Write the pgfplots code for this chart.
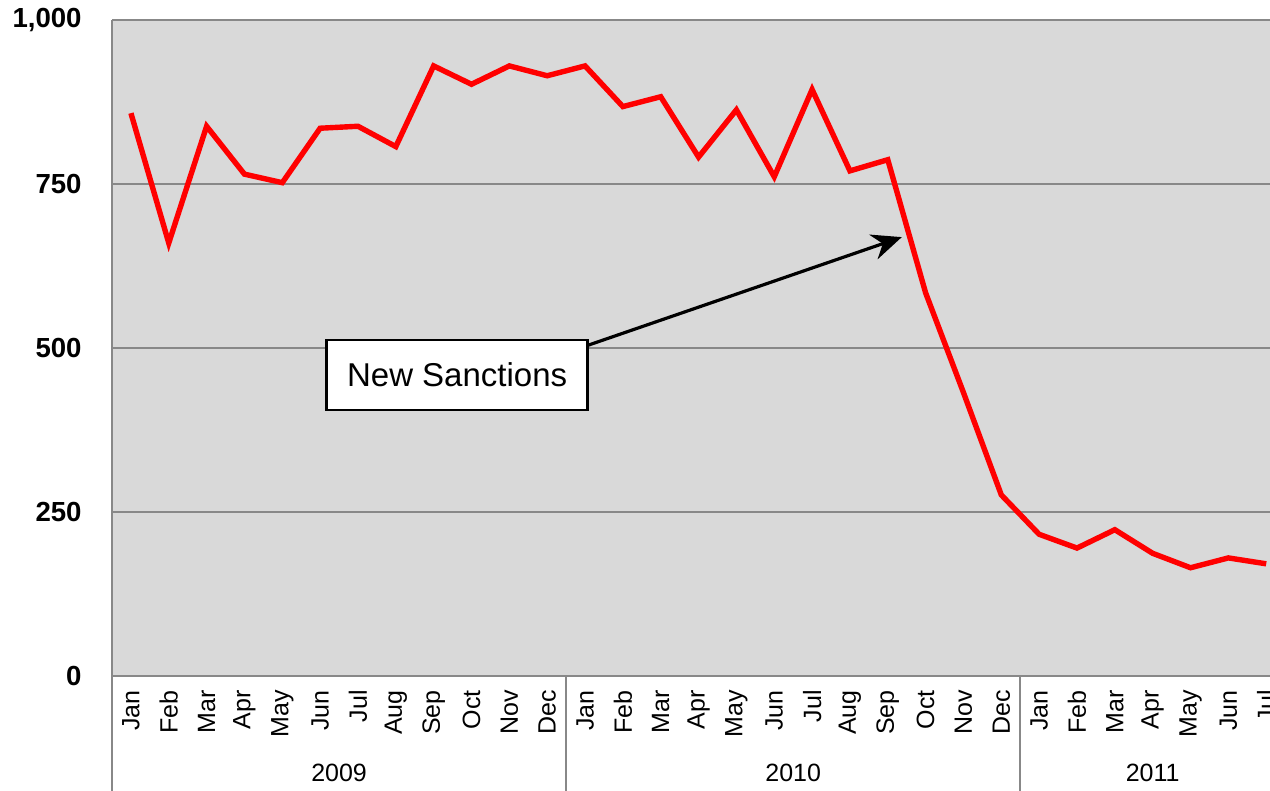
\documentclass[border=0pt]{standalone}
\usepackage{pgfplots}
\pgfplotsset{compat=1.18}
\usepackage{fontspec}
\setmainfont{Liberation Sans}
\usetikzlibrary{arrows.meta}
\definecolor{plotbg}{RGB}{217,217,217}
\definecolor{framegray}{RGB}{136,136,136}
\definecolor{linered}{RGB}{255,0,0}

\begin{document}
\begin{tikzpicture}
  \begin{axis}[
      at={(56pt,57.5pt)}, anchor=south west,
      scale only axis, width=579pt, height=328pt,
      xmin=-0.5, xmax=30.1, ymin=0, ymax=1000,
      axis lines=left, axis line style={-, framegray, line width=1pt},
      axis background/.style={fill=plotbg},
      ytick={0,250,500,750,1000},
      yticklabels={0,250,500,750,{1,000}},
      ymajorgrids, grid style={framegray, line width=1pt},
      major tick length=0pt,
      yticklabel style={font=\fontsize{13.8}{16}\selectfont\bfseries, anchor=east, inner sep=0pt, xshift=-15pt},
      xtick={0,...,30},
      xticklabels={Jan,Feb,Mar,Apr,May,Jun,Jul,Aug,Sep,Oct,Nov,Dec,
                   Jan,Feb,Mar,Apr,May,Jun,Jul,Aug,Sep,Oct,Nov,Dec,
                   Jan,Feb,Mar,Apr,May,Jun,Jul},
      xticklabel style={font=\fontsize{12.5}{14}\selectfont, yshift=-7pt, rotate=90, anchor=east, inner sep=0pt},
      clip=false,
    ]
    % monthly values, Jan 2009 - Jul 2011
    \addplot[linered, line width=2.7pt, line join=miter] coordinates {
      (0,858) (1,660) (2,838) (3,765) (4,752) (5,835) (6,838) (7,807)
      (8,930) (9,902) (10,930) (11,915)
      (12,930) (13,868) (14,883) (15,791) (16,863) (17,761) (18,894) (19,770)
      (20,787) (21,584) (22,432) (23,276)
      (24,216) (25,195) (26,223) (27,187) (28,165) (29,180) (30,171)
    };

    % year dividers and labels
    \draw[framegray, line width=1pt] (axis cs:-0.5,0) -- ([yshift=-60pt]axis cs:-0.5,0);
    \draw[framegray, line width=1pt] (axis cs:11.5,0) -- ([yshift=-60pt]axis cs:11.5,0);
    \draw[framegray, line width=1pt] (axis cs:23.5,0) -- ([yshift=-60pt]axis cs:23.5,0);
    \node[font=\fontsize{12.5}{14}\selectfont, yshift=-48.5pt] at (axis cs:5.5,0) {2009};
    \node[font=\fontsize{12.5}{14}\selectfont, yshift=-48.5pt] at (axis cs:17.5,0) {2010};
    \node[font=\fontsize{12.5}{14}\selectfont, yshift=-48.5pt] at (axis cs:27,0) {2011};

    % annotation
    \draw[line width=1.6pt, -{Stealth[length=15pt, width=13pt, inset=5pt]}]
      (axis cs:12.07,504) -- (axis cs:20.37,669);
    \node[draw=black, line width=1.3pt, fill=white, minimum width=130.5pt, minimum height=35pt,
          inner sep=0pt, font=\fontsize{16.5}{19}\selectfont] at (axis cs:8.62,459) {New Sanctions};
  \end{axis}
  \pgfresetboundingbox
  \path[use as bounding box] (0,0) rectangle (635pt,395.5pt);
\end{tikzpicture}
\end{document}
